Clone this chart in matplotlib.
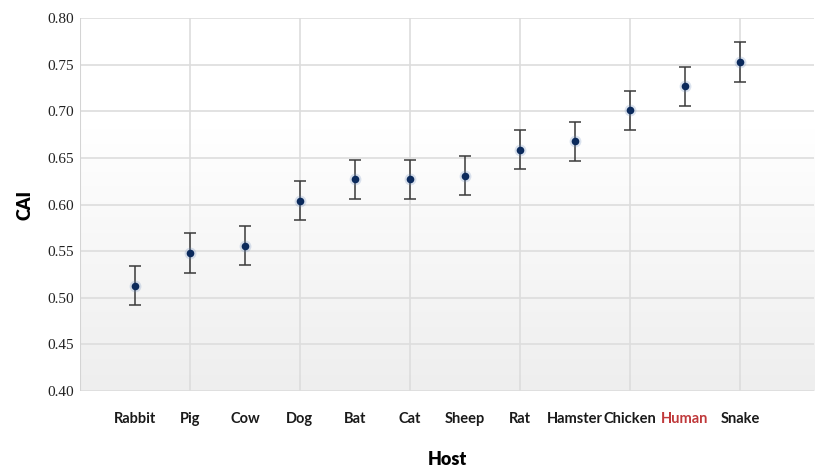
import numpy as np
import matplotlib.pyplot as plt
from matplotlib.colors import LinearSegmentedColormap

hosts = ['Rabbit', 'Pig', 'Cow', 'Dog', 'Bat', 'Cat', 'Sheep', 'Rat',
         'Hamster', 'Chicken', 'Human', 'Snake']
cai = [0.513, 0.548, 0.556, 0.604, 0.627, 0.627, 0.631, 0.659,
       0.668, 0.701, 0.727, 0.753]
err = [0.021, 0.021, 0.021, 0.021, 0.021, 0.021, 0.021, 0.021,
       0.021, 0.021, 0.021, 0.021]
yticks = [0.40, 0.45, 0.50, 0.55, 0.60, 0.65, 0.70, 0.75, 0.80]

fig = plt.figure(figsize=(8.15, 4.67), dpi=100)
ax = fig.add_axes([0.098, 0.163, 0.901, 0.798])

x = np.arange(len(hosts))
ax.set_xlim(-1, 12.35)
ax.set_ylim(0.40, 0.80)

# background: white up top, fading to light grey toward the bottom
bg = LinearSegmentedColormap.from_list(
    'bg', [(0.0, '#eeeeee'), (0.55, '#fbfbfb'), (0.7, '#ffffff'), (1.0, '#ffffff')])
grad = np.linspace(0.0, 1.0, 256).reshape(-1, 1)
ax.imshow(grad, extent=[0, 1, 0, 1], transform=ax.transAxes, aspect='auto',
          origin='lower', cmap=bg, vmin=0, vmax=1, zorder=0)

# grid: horizontal at each tick, vertical at every other host
for yv in yticks:
    ax.axhline(yv, color='#dddddd', lw=1.2, zorder=1)
for xv in x[1::2]:
    ax.axvline(xv, color='#dddddd', lw=1.2, zorder=1)

for s in ax.spines.values():
    s.set_visible(False)
ax.axvline(-1, color='#d4d4d4', lw=1.5, zorder=1)

ax.errorbar(x, cai, yerr=err, fmt='none', ecolor='#3a3a3a', elinewidth=1.1,
            capsize=4, capthick=1.1, zorder=3)
# soft halo around the markers
ax.plot(x, cai, 'o', ms=8.5, color='#6f8fbf', alpha=0.25, mec='none', zorder=4)
ax.plot(x, cai, 'o', ms=5.5, color='#0b2a5c', mec='none', zorder=5)

ax.set_yticks(yticks)
ax.set_yticklabels([f'{v:.2f}' for v in yticks], family='Liberation Serif',
                   fontsize=11, color='#222222')
ax.set_xticks(x)
ax.set_xticklabels(hosts, family='Lato', fontweight='bold', fontsize=10.5,
                   color='#1a1a1a')
ax.get_xticklabels()[hosts.index('Human')].set_color('#c0393b')
ax.tick_params(axis='both', length=0)
ax.tick_params(axis='x', pad=15)
ax.tick_params(axis='y', pad=4)

ax.set_ylabel('CAI', family='Lato', fontweight='heavy', fontsize=13,
              labelpad=10)
ax.set_xlabel('Host', family='Lato', fontweight='heavy', fontsize=13,
              labelpad=18)

fig.savefig('out.png', dpi=100)
